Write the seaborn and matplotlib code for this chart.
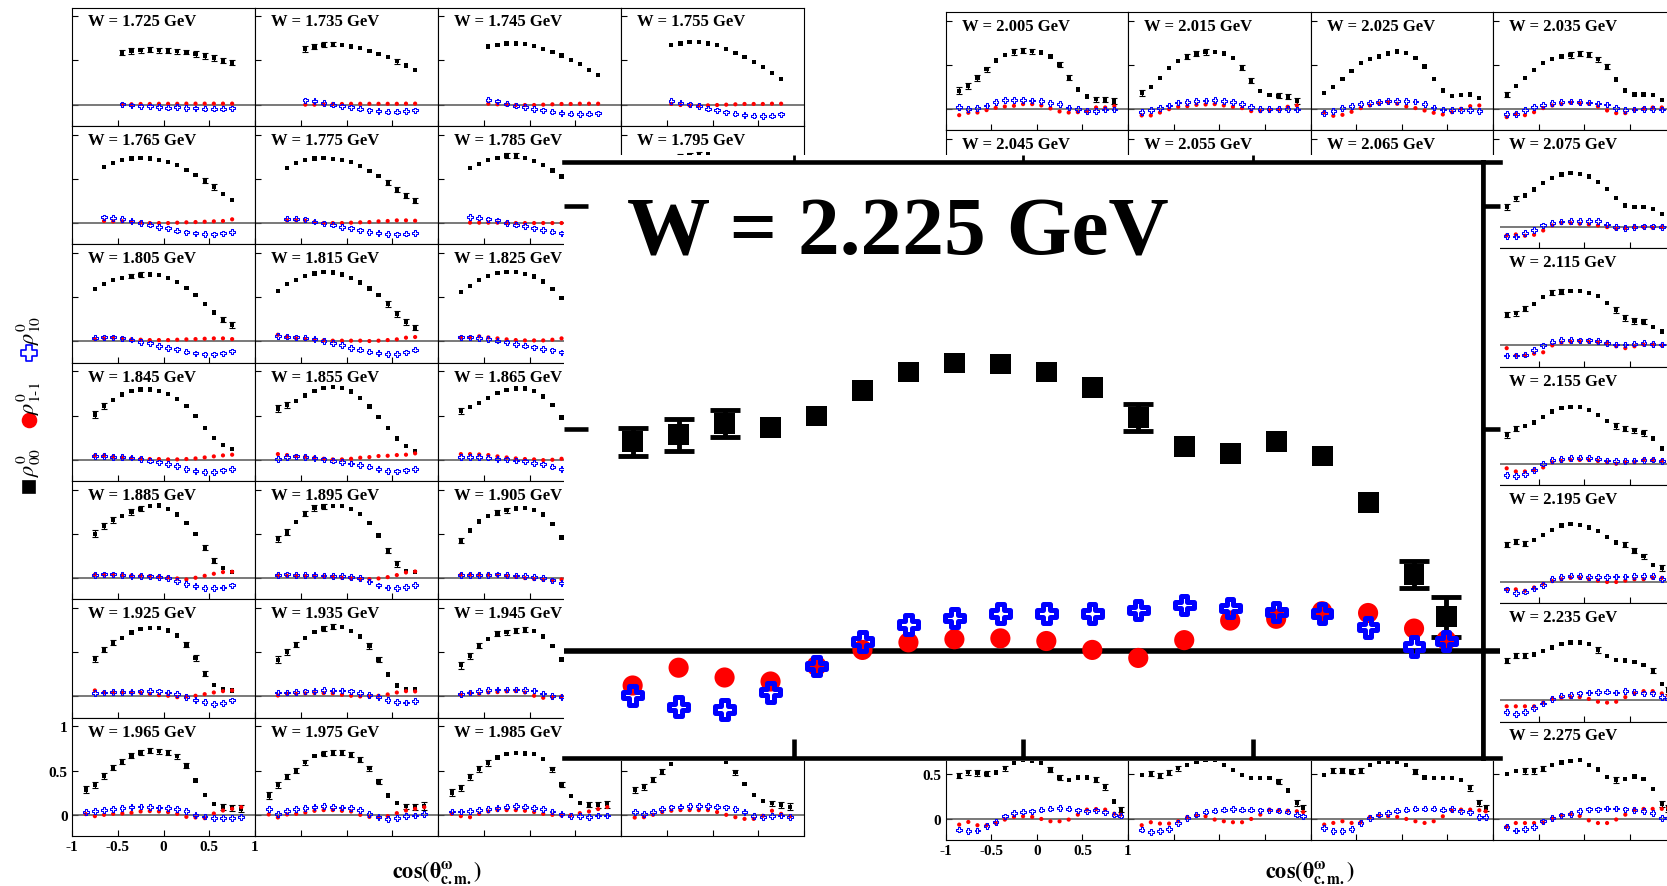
import matplotlib
matplotlib.use("Agg")
import matplotlib.pyplot as plt
from matplotlib.path import Path
from matplotlib.lines import Line2D
from matplotlib.patches import Rectangle
import seaborn as sns

sns.set_style("ticks")
plt.rcParams["font.family"] = ["Liberation Serif", "DejaVu Serif"]
plt.rcParams["mathtext.fontset"] = "stix"
plt.rcParams["text.color"] = "black"
plt.rcParams["xtick.labelcolor"] = "black"
plt.rcParams["ytick.labelcolor"] = "black"

# ---------------------------------------------------------------- data
COS_BINS = [-0.85, -0.75, -0.65, -0.55, -0.45, -0.35, -0.25, -0.15, -0.05,
            0.05, 0.15, 0.25, 0.35, 0.45, 0.55, 0.65, 0.75, 0.85, 0.92]

W_LOW = ["1.725", "1.735", "1.745", "1.755", "1.765", "1.775", "1.785", "1.795",
         "1.805", "1.815", "1.825", "1.835", "1.845", "1.855", "1.865", "1.875",
         "1.885", "1.895", "1.905", "1.915", "1.925", "1.935", "1.945", "1.955",
         "1.965", "1.975", "1.985", "1.995"]
W_HIGH = ["2.005", "2.015", "2.025", "2.035", "2.045", "2.055", "2.065", "2.075",
          "2.085", "2.095", "2.105", "2.115", "2.125", "2.135", "2.145", "2.155",
          "2.165", "2.175", "2.185", "2.195", "2.205", "2.215", "2.225", "2.235",
          "2.245", "2.255", "2.265", "2.275"]
W_ZOOM = "2.225"

XTICKS = [-1, -0.5, 0, 0.5, 1]
XTICK_LABELS = ["-1", "-0.5", "0", "0.5", "1"]
YTICKS = [0, 0.5, 1]
YTICK_LABELS = ["0", "0.5", "1"]

# index of the first cos(theta) bin of each panel
FIRST_BIN = {
    "1.725": 4, "1.735": 4, "1.745": 4, "1.755": 4,
    "1.765": 2, "1.775": 2, "1.785": 2, "1.795": 2,
    "1.805": 1, "1.815": 1, "1.825": 1,
    "1.845": 1, "1.855": 1, "1.865": 1,
    "1.885": 1, "1.895": 1, "1.905": 1,
    "1.925": 1, "1.935": 1, "1.945": 1,
    "1.965": 0, "1.975": 0, "1.985": 0, "1.995": 0,
    "2.005": 0, "2.015": 0, "2.025": 0, "2.035": 0, "2.075": 0,
    "2.115": 0, "2.155": 0, "2.195": 0, "2.225": 0, "2.235": 0,
    "2.245": 0, "2.255": 0, "2.265": 0, "2.275": 0,
}

# rho^0_00
RHO00 = {
    "1.725": [0.589, 0.608, 0.615, 0.623, 0.615, 0.611, 0.604, 0.596, 0.574, 0.551, 0.528, 0.498, 0.475],
    "1.735": [0.630, 0.657, 0.679, 0.687, 0.675, 0.660, 0.642, 0.611, 0.577, 0.536, 0.491, 0.445, 0.396],
    "1.745": [0.660, 0.679, 0.691, 0.691, 0.687, 0.664, 0.634, 0.596, 0.555, 0.506, 0.460, 0.396, 0.336],
    "1.755": [0.675, 0.694, 0.709, 0.706, 0.694, 0.672, 0.630, 0.585, 0.540, 0.483, 0.423, 0.358, 0.294],
    "1.765": [0.638, 0.679, 0.713, 0.732, 0.736, 0.732, 0.713, 0.687, 0.653, 0.604, 0.547, 0.479, 0.408, 0.328, 0.264],
    "1.775": [0.626, 0.679, 0.713, 0.732, 0.736, 0.728, 0.713, 0.687, 0.642, 0.592, 0.532, 0.460, 0.381, 0.313, 0.253],
    "1.785": [0.626, 0.668, 0.713, 0.740, 0.766, 0.762, 0.740, 0.702, 0.657, 0.596, 0.525],
    "1.795": [0.620, 0.660, 0.710, 0.750, 0.770, 0.780, 0.775, 0.750, 0.710, 0.650, 0.580],
    "1.805": [0.592, 0.653, 0.691, 0.717, 0.740, 0.755, 0.758, 0.751, 0.721, 0.675, 0.608, 0.525, 0.426, 0.328, 0.249, 0.185],
    "1.815": [0.570, 0.649, 0.698, 0.740, 0.770, 0.789, 0.781, 0.758, 0.717, 0.668, 0.600, 0.525, 0.423, 0.313, 0.219, 0.158],
    "1.825": [0.558, 0.626, 0.691, 0.743, 0.774, 0.785, 0.785, 0.766, 0.736, 0.679, 0.592, 0.491],
    "1.845": [0.513, 0.608, 0.679, 0.740, 0.781, 0.796, 0.796, 0.781, 0.747, 0.687, 0.608, 0.498, 0.362, 0.245, 0.166, 0.121],
    "1.855": [0.581, 0.619, 0.668, 0.728, 0.777, 0.811, 0.826, 0.815, 0.774, 0.702, 0.604, 0.487, 0.358, 0.242, 0.155, 0.102],
    "1.865": [0.555, 0.596, 0.645, 0.702, 0.755, 0.789, 0.808, 0.808, 0.781, 0.717, 0.619, 0.479],
    "1.885": [0.502, 0.592, 0.657, 0.706, 0.747, 0.785, 0.815, 0.823, 0.781, 0.721, 0.626, 0.498, 0.343, 0.200, 0.113, 0.068],
    "1.895": [0.442, 0.517, 0.634, 0.732, 0.792, 0.811, 0.819, 0.815, 0.781, 0.725, 0.626, 0.483, 0.309, 0.158, 0.083, 0.068],
    "1.905": [0.423, 0.540, 0.642, 0.706, 0.743, 0.770, 0.789, 0.796, 0.774, 0.721, 0.615, 0.460],
    "1.925": [0.426, 0.532, 0.611, 0.664, 0.725, 0.762, 0.777, 0.774, 0.747, 0.691, 0.589, 0.434, 0.257, 0.128, 0.079, 0.068],
    "1.935": [0.415, 0.502, 0.585, 0.660, 0.728, 0.770, 0.789, 0.785, 0.743, 0.679, 0.570, 0.419, 0.249, 0.125, 0.087, 0.087],
    "1.945": [0.355, 0.460, 0.577, 0.653, 0.709, 0.728, 0.743, 0.758, 0.743, 0.679, 0.574, 0.419],
    "1.965": [0.287, 0.343, 0.440, 0.534, 0.602, 0.668, 0.706, 0.725, 0.721, 0.706, 0.664, 0.558, 0.389, 0.226, 0.121, 0.087, 0.079, 0.068],
    "1.975": [0.219, 0.340, 0.430, 0.502, 0.596, 0.664, 0.691, 0.702, 0.702, 0.679, 0.626, 0.528, 0.377, 0.219, 0.132, 0.098, 0.087, 0.100],
    "1.985": [0.252, 0.302, 0.427, 0.519, 0.588, 0.649, 0.687, 0.698, 0.695, 0.687, 0.634, 0.515, 0.344, 0.210, 0.137, 0.115, 0.115, 0.122],
    "1.995": [0.279, 0.317, 0.401, 0.492, 0.576, 0.630, 0.670, 0.690, 0.690, 0.670, 0.595, 0.481, 0.347, 0.221, 0.156, 0.130, 0.115, 0.092],
    "2.005": [0.204, 0.257, 0.347, 0.449, 0.547, 0.608, 0.642, 0.657, 0.653, 0.638, 0.592, 0.502, 0.355, 0.219, 0.140, 0.109, 0.102, 0.083],
    "2.015": [0.177, 0.249, 0.351, 0.464, 0.543, 0.589, 0.623, 0.645, 0.645, 0.626, 0.574, 0.464, 0.317, 0.200, 0.155, 0.147, 0.140, 0.091],
    "2.025": [0.181, 0.245, 0.340, 0.430, 0.517, 0.562, 0.592, 0.626, 0.649, 0.634, 0.577, 0.479, 0.340, 0.208, 0.143, 0.155, 0.162, 0.121],
    "2.035": [0.162, 0.260, 0.347, 0.442, 0.517, 0.562, 0.592, 0.611, 0.623, 0.615, 0.562, 0.479, 0.332, 0.208, 0.162, 0.162, 0.155, 0.098],
    "2.075": [0.226, 0.328, 0.358, 0.426, 0.498, 0.555, 0.596, 0.615, 0.604, 0.574, 0.509, 0.434, 0.328, 0.245, 0.226, 0.226, 0.204, 0.151],
    "2.115": [0.348, 0.364, 0.416, 0.468, 0.545, 0.597, 0.608, 0.613, 0.613, 0.597, 0.556, 0.483, 0.400, 0.312, 0.275, 0.270, 0.208, 0.156],
    "2.155": [0.327, 0.395, 0.431, 0.468, 0.530, 0.592, 0.634, 0.644, 0.639, 0.608, 0.551, 0.483, 0.426, 0.395, 0.379, 0.348, 0.286, 0.171],
    "2.195": [0.421, 0.457, 0.436, 0.473, 0.535, 0.587, 0.639, 0.655, 0.644, 0.618, 0.577, 0.509, 0.447, 0.421, 0.358, 0.291, 0.190, 0.160],
    "2.225": [0.471, 0.487, 0.512, 0.503, 0.529, 0.586, 0.628, 0.648, 0.646, 0.628, 0.593, 0.525, 0.461, 0.444, 0.471, 0.439, 0.335, 0.172, 0.078],
    "2.235": [0.452, 0.504, 0.504, 0.519, 0.561, 0.597, 0.639, 0.655, 0.655, 0.634, 0.571, 0.504, 0.457, 0.452, 0.431, 0.400, 0.338, 0.182, 0.110],
    "2.245": [0.485, 0.526, 0.515, 0.508, 0.523, 0.571, 0.635, 0.665, 0.654, 0.628, 0.553, 0.466, 0.440, 0.466, 0.466, 0.440, 0.357, 0.195, 0.102],
    "2.255": [0.496, 0.508, 0.485, 0.523, 0.571, 0.609, 0.647, 0.665, 0.665, 0.609, 0.553, 0.496, 0.459, 0.459, 0.459, 0.421, 0.320, 0.177, 0.120],
    "2.265": [0.496, 0.541, 0.541, 0.534, 0.545, 0.609, 0.647, 0.647, 0.647, 0.609, 0.534, 0.466, 0.459, 0.459, 0.459, 0.440, 0.346, 0.177, 0.120],
    "2.275": [0.504, 0.540, 0.540, 0.540, 0.566, 0.608, 0.634, 0.649, 0.660, 0.608, 0.556, 0.468, 0.436, 0.452, 0.478, 0.452, 0.332, 0.166, 0.114],
}

# uncertainties of rho^0_00
ERR00 = {
    "1.725": [0.032, 0.030, 0.030, 0.030, 0.028, 0.028, 0.028, 0.028, 0.030, 0.030, 0.030, 0.030, 0.030],
    "1.735": [0.030, 0.028, 0.028, 0.028, 0.012, 0.012, 0.012, 0.012, 0.012, 0.012, 0.028, 0.012, 0.012],
    "1.745": [0.012, 0.012, 0.012, 0.012, 0.012, 0.012, 0.012, 0.012, 0.012, 0.012, 0.012, 0.012, 0.012],
    "1.755": [0.012, 0.012, 0.012, 0.012, 0.012, 0.012, 0.012, 0.012, 0.012, 0.012, 0.012, 0.012, 0.012],
    "1.765": [0.012, 0.012, 0.012, 0.012, 0.012, 0.012, 0.012, 0.012, 0.012, 0.012, 0.012, 0.030, 0.030, 0.012, 0.012],
    "1.775": [0.012, 0.012, 0.012, 0.012, 0.012, 0.012, 0.012, 0.012, 0.012, 0.012, 0.012, 0.030, 0.032, 0.032, 0.030],
    "1.785": [0.012, 0.012, 0.012, 0.012, 0.028, 0.028, 0.012, 0.012, 0.012, 0.012, 0.012],
    "1.795": [0.012, 0.012, 0.012, 0.028, 0.028, 0.028, 0.012, 0.012, 0.012, 0.012, 0.012],
    "1.805": [0.012, 0.012, 0.012, 0.012, 0.028, 0.028, 0.012, 0.012, 0.012, 0.012, 0.012, 0.012, 0.012, 0.012, 0.030, 0.030],
    "1.815": [0.012, 0.012, 0.012, 0.012, 0.012, 0.012, 0.012, 0.012, 0.012, 0.012, 0.012, 0.012, 0.030, 0.032, 0.030, 0.030],
    "1.825": [0.012, 0.012, 0.012, 0.012, 0.012, 0.012, 0.012, 0.012, 0.012, 0.012, 0.012, 0.012],
    "1.845": [0.040, 0.032, 0.012, 0.012, 0.012, 0.012, 0.012, 0.012, 0.012, 0.012, 0.012, 0.012, 0.012, 0.012, 0.012, 0.012],
    "1.855": [0.040, 0.032, 0.012, 0.012, 0.012, 0.012, 0.012, 0.012, 0.012, 0.012, 0.012, 0.012, 0.012, 0.012, 0.012, 0.012],
    "1.865": [0.036, 0.012, 0.012, 0.012, 0.012, 0.012, 0.012, 0.012, 0.012, 0.012, 0.012, 0.012],
    "1.885": [0.040, 0.032, 0.030, 0.012, 0.030, 0.030, 0.012, 0.012, 0.012, 0.012, 0.012, 0.012, 0.030, 0.032, 0.012, 0.012],
    "1.895": [0.038, 0.034, 0.012, 0.030, 0.030, 0.030, 0.012, 0.012, 0.012, 0.012, 0.012, 0.012, 0.030, 0.030, 0.012, 0.012],
    "1.905": [0.030, 0.012, 0.012, 0.012, 0.028, 0.028, 0.012, 0.012, 0.012, 0.012, 0.012, 0.012],
    "1.925": [0.036, 0.030, 0.030, 0.012, 0.012, 0.012, 0.012, 0.012, 0.012, 0.012, 0.030, 0.032, 0.030, 0.012, 0.012, 0.012],
    "1.935": [0.038, 0.032, 0.030, 0.012, 0.012, 0.030, 0.030, 0.012, 0.012, 0.012, 0.030, 0.030, 0.012, 0.012, 0.012, 0.012],
    "1.945": [0.040, 0.036, 0.030, 0.012, 0.028, 0.028, 0.028, 0.028, 0.012, 0.012, 0.012, 0.012],
    "1.965": [0.040, 0.034, 0.030, 0.030, 0.030, 0.030, 0.030, 0.028, 0.028, 0.028, 0.030, 0.030, 0.012, 0.012, 0.012, 0.030, 0.034, 0.040],
    "1.975": [0.040, 0.032, 0.030, 0.030, 0.030, 0.012, 0.030, 0.030, 0.030, 0.030, 0.030, 0.030, 0.030, 0.012, 0.012, 0.030, 0.034, 0.040],
    "1.985": [0.036, 0.034, 0.030, 0.030, 0.030, 0.012, 0.012, 0.012, 0.012, 0.012, 0.012, 0.030, 0.030, 0.012, 0.012, 0.030, 0.034, 0.040],
    "1.995": [0.036, 0.034, 0.030, 0.030, 0.012, 0.012, 0.012, 0.012, 0.012, 0.012, 0.012, 0.030, 0.012, 0.012, 0.012, 0.030, 0.034, 0.040],
    "2.005": [0.040, 0.032, 0.032, 0.030, 0.012, 0.012, 0.030, 0.030, 0.030, 0.012, 0.012, 0.030, 0.030, 0.012, 0.012, 0.030, 0.030, 0.034],
    "2.015": [0.032, 0.012, 0.012, 0.012, 0.012, 0.030, 0.030, 0.030, 0.012, 0.012, 0.012, 0.030, 0.030, 0.012, 0.012, 0.030, 0.030, 0.036],
    "2.025": [0.012, 0.012, 0.012, 0.012, 0.012, 0.012, 0.012, 0.012, 0.012, 0.012, 0.012, 0.012, 0.012, 0.012, 0.012, 0.012, 0.012, 0.012],
    "2.035": [0.032, 0.012, 0.012, 0.012, 0.012, 0.012, 0.012, 0.030, 0.030, 0.030, 0.030, 0.030, 0.012, 0.012, 0.012, 0.012, 0.012, 0.012],
    "2.075": [0.034, 0.030, 0.012, 0.012, 0.012, 0.012, 0.012, 0.012, 0.012, 0.012, 0.012, 0.012, 0.012, 0.012, 0.012, 0.012, 0.012, 0.012],
    "2.115": [0.030, 0.030, 0.030, 0.012, 0.012, 0.030, 0.030, 0.012, 0.012, 0.012, 0.012, 0.012, 0.030, 0.030, 0.030, 0.030, 0.012, 0.012],
    "2.155": [0.034, 0.030, 0.012, 0.012, 0.012, 0.012, 0.012, 0.012, 0.012, 0.012, 0.012, 0.012, 0.030, 0.030, 0.030, 0.030, 0.012, 0.012],
    "2.195": [0.030, 0.030, 0.030, 0.012, 0.012, 0.012, 0.012, 0.012, 0.012, 0.012, 0.012, 0.012, 0.012, 0.030, 0.030, 0.030, 0.012, 0.030],
    "2.225": [0.032, 0.036, 0.030, 0.012, 0.012, 0.012, 0.012, 0.012, 0.012, 0.012, 0.012, 0.030, 0.012, 0.012, 0.012, 0.012, 0.012, 0.030, 0.045],
    "2.235": [0.032, 0.030, 0.030, 0.012, 0.012, 0.012, 0.012, 0.012, 0.012, 0.012, 0.030, 0.012, 0.012, 0.012, 0.012, 0.012, 0.030, 0.012, 0.036],
    "2.245": [0.030, 0.030, 0.030, 0.030, 0.012, 0.030, 0.012, 0.012, 0.012, 0.012, 0.030, 0.030, 0.012, 0.012, 0.012, 0.030, 0.030, 0.012, 0.030],
    "2.255": [0.012, 0.030, 0.030, 0.030, 0.030, 0.012, 0.012, 0.012, 0.012, 0.012, 0.012, 0.012, 0.012, 0.012, 0.012, 0.030, 0.012, 0.030, 0.036],
    "2.265": [0.012, 0.030, 0.030, 0.030, 0.030, 0.012, 0.012, 0.012, 0.012, 0.012, 0.030, 0.012, 0.012, 0.012, 0.012, 0.012, 0.030, 0.030, 0.036],
    "2.275": [0.012, 0.012, 0.030, 0.030, 0.030, 0.012, 0.012, 0.012, 0.012, 0.012, 0.012, 0.012, 0.030, 0.012, 0.012, 0.012, 0.012, 0.030, 0.036],
}

# rho^0_1-1
RHO1M1 = {
    "1.725": [0.005, 0.005, 0.008, 0.008, 0.010, 0.010, 0.010, 0.012, 0.012, 0.012, 0.012, 0.012, 0.012],
    "1.735": [0.000, 0.000, 0.005, 0.008, 0.008, 0.010, 0.010, 0.010, 0.010, 0.010, 0.010, 0.012, 0.012],
    "1.745": [0.011, 0.004, 0.000, -0.004, -0.004, -0.004, 0.000, 0.004, 0.008, 0.008, 0.011, 0.011, 0.011],
    "1.755": [0.008, -0.004, -0.008, -0.011, -0.008, -0.004, 0.000, 0.004, 0.008, 0.008, 0.008, 0.011, 0.011],
    "1.765": [0.023, 0.019, 0.019, 0.011, 0.004, 0.000, 0.000, 0.000, 0.004, 0.008, 0.011, 0.015, 0.019, 0.023, 0.042],
    "1.775": [0.030, 0.030, 0.026, 0.011, 0.000, 0.000, 0.000, 0.004, 0.008, 0.011, 0.019, 0.023, 0.030, 0.030, 0.026],
    "1.785": [0.004, 0.004, 0.004, 0.004, 0.000, 0.000, 0.000, 0.000, 0.000, 0.000, 0.000],
    "1.795": [0.010, 0.010, 0.008, 0.005, 0.003, 0.000, 0.000, 0.000, 0.000, 0.000, 0.000],
    "1.805": [0.026, 0.034, 0.042, 0.034, 0.023, 0.019, 0.015, 0.015, 0.015, 0.019, 0.023, 0.026, 0.030, 0.034, 0.034, 0.026],
    "1.815": [0.075, 0.053, 0.034, 0.026, 0.019, 0.011, 0.008, 0.008, 0.008, 0.008, 0.004, 0.008, 0.015, 0.023, 0.042, 0.049],
    "1.825": [0.042, 0.045, 0.057, 0.045, 0.034, 0.023, 0.015, 0.011, 0.011, 0.011, 0.019, 0.034],
    "1.845": [0.045, 0.045, 0.034, 0.026, 0.019, 0.011, 0.008, 0.008, 0.004, 0.004, 0.008, 0.015, 0.026, 0.038, 0.049, 0.057],
    "1.855": [0.064, 0.053, 0.042, 0.034, 0.023, 0.011, 0.004, 0.004, 0.011, 0.023, 0.030, 0.042, 0.045, 0.053, 0.057, 0.072],
    "1.865": [0.064, 0.064, 0.060, 0.053, 0.038, 0.026, 0.015, 0.008, 0.004, -0.004, 0.000, 0.011],
    "1.885": [0.038, 0.038, 0.038, 0.034, 0.030, 0.026, 0.023, 0.015, 0.008, -0.004, -0.015, 0.004, 0.026, 0.049, 0.068, 0.072],
    "1.895": [0.030, 0.026, 0.026, 0.023, 0.023, 0.019, 0.015, 0.004, -0.004, -0.011, -0.011, -0.004, 0.011, 0.034, 0.064, 0.075],
    "1.905": [0.038, 0.038, 0.038, 0.038, 0.034, 0.026, 0.015, 0.000, -0.011, -0.019, -0.026, -0.015],
    "1.925": [0.068, 0.045, 0.045, 0.045, 0.045, 0.042, 0.030, 0.015, 0.008, -0.008, 0.000, 0.008, 0.026, 0.045, 0.060, 0.068],
    "1.935": [0.011, 0.030, 0.030, 0.034, 0.038, 0.038, 0.034, 0.019, 0.008, 0.000, 0.000, 0.008, 0.023, 0.045, 0.060, 0.057],
    "1.945": [0.019, 0.038, 0.030, 0.045, 0.049, 0.057, 0.060, 0.045, 0.008, -0.015, -0.008, 0.000],
    "1.965": [0.008, -0.015, 0.000, 0.011, 0.015, 0.023, 0.038, 0.042, 0.038, 0.030, 0.011, -0.023, -0.030, -0.038, 0.015, 0.049, 0.068, 0.087],
    "1.975": [0.004, -0.030, 0.004, 0.011, 0.026, 0.045, 0.053, 0.053, 0.045, 0.038, 0.000, -0.023, -0.026, -0.015, 0.019, 0.049, 0.068, 0.087],
    "1.985": [0.011, -0.015, -0.027, 0.011, 0.038, 0.053, 0.053, 0.053, 0.046, 0.031, 0.011, 0.000, -0.008, -0.004, 0.019, 0.038, 0.065, 0.088],
    "1.995": [-0.031, -0.027, 0.000, 0.031, 0.046, 0.053, 0.053, 0.053, 0.053, 0.031, 0.000, -0.027, -0.046, -0.046, -0.011, 0.046, 0.011, -0.015],
    "2.005": [-0.072, -0.045, -0.042, -0.015, 0.011, 0.026, 0.034, 0.053, 0.053, 0.038, 0.004, -0.030, -0.042, -0.038, -0.030, 0.015, 0.015, 0.030],
    "2.015": [-0.075, -0.075, -0.042, -0.004, 0.023, 0.030, 0.045, 0.049, 0.053, 0.038, 0.023, 0.008, -0.026, -0.026, -0.015, -0.008, 0.023, 0.038],
    "2.025": [-0.042, -0.079, -0.068, -0.034, 0.008, 0.038, 0.060, 0.075, 0.057, 0.026, 0.008, -0.019, -0.045, -0.064, -0.038, 0.000, 0.030, 0.038],
    "2.035": [-0.094, -0.060, -0.072, -0.038, 0.008, 0.038, 0.053, 0.068, 0.064, 0.057, 0.026, -0.019, -0.049, -0.049, -0.011, 0.000, 0.015, 0.015],
    "2.075": [-0.094, -0.083, -0.098, -0.087, -0.038, 0.019, 0.045, 0.045, 0.038, 0.030, 0.019, 0.000, -0.019, -0.011, 0.000, 0.000, -0.008, 0.000],
    "2.115": [-0.031, -0.114, -0.114, -0.094, -0.078, 0.000, 0.031, 0.042, 0.047, 0.042, 0.036, 0.026, -0.010, -0.031, -0.010, 0.010, 0.010, 0.000],
    "2.155": [-0.052, -0.088, -0.088, -0.073, -0.042, 0.016, 0.031, 0.042, 0.042, 0.042, 0.031, 0.016, 0.000, 0.016, 0.016, 0.042, 0.042, 0.031],
    "2.195": [-0.083, -0.083, -0.099, -0.062, -0.021, 0.010, 0.031, 0.047, 0.047, 0.031, 0.016, 0.000, 0.000, 0.016, 0.031, 0.031, 0.047, 0.047],
    "2.225": [-0.077, -0.037, -0.059, -0.068, -0.033, 0.003, 0.020, 0.027, 0.029, 0.023, 0.003, -0.015, 0.025, 0.069, 0.073, 0.090, 0.086, 0.051, 0.025],
    "2.235": [-0.068, -0.068, -0.068, -0.068, -0.026, 0.016, 0.026, 0.036, 0.036, 0.016, -0.016, -0.026, -0.016, 0.036, 0.078, 0.104, 0.104, 0.078, 0.052],
    "2.245": [-0.068, -0.038, -0.075, -0.075, -0.049, -0.011, 0.019, 0.026, 0.019, -0.004, -0.030, -0.030, -0.011, 0.045, 0.102, 0.109, 0.102, 0.056, 0.045],
    "2.255": [-0.075, -0.041, -0.056, -0.056, -0.030, 0.019, 0.034, 0.026, -0.011, -0.030, -0.041, -0.041, -0.004, 0.045, 0.102, 0.094, 0.090, 0.083, 0.075],
    "2.265": [-0.068, -0.049, -0.030, -0.049, -0.041, 0.019, 0.034, 0.026, 0.019, -0.004, -0.030, -0.049, -0.030, 0.026, 0.090, 0.102, 0.102, 0.094, 0.083],
    "2.275": [-0.090, -0.050, -0.050, -0.050, -0.045, 0.000, 0.035, 0.050, 0.030, -0.020, -0.050, -0.050, -0.010, 0.045, 0.100, 0.110, 0.110, 0.110, 0.120],
}

# rho^0_10
RHO10 = {
    "1.725": [0.004, -0.008, -0.019, -0.019, -0.026, -0.034, -0.026, -0.038, -0.042, -0.045, -0.045, -0.045, -0.042],
    "1.735": [0.049, 0.042, 0.019, 0.000, -0.019, -0.030, -0.045, -0.064, -0.072, -0.079, -0.079, -0.072, -0.064],
    "1.745": [0.057, 0.038, 0.011, -0.011, -0.026, -0.049, -0.064, -0.079, -0.094, -0.102, -0.106, -0.102, -0.098],
    "1.755": [0.042, 0.023, 0.004, -0.015, -0.045, -0.064, -0.087, -0.102, -0.117, -0.125, -0.128, -0.125, -0.109],
    "1.765": [0.064, 0.057, 0.045, 0.023, 0.000, -0.019, -0.042, -0.060, -0.087, -0.106, -0.117, -0.125, -0.128, -0.117, -0.102],
    "1.775": [0.049, 0.049, 0.042, 0.015, -0.004, -0.019, -0.042, -0.060, -0.083, -0.102, -0.113, -0.125, -0.128, -0.121, -0.113],
    "1.785": [0.068, 0.060, 0.042, 0.030, 0.000, -0.019, -0.034, -0.060, -0.079, -0.098, -0.117],
    "1.795": [0.060, 0.050, 0.040, 0.020, 0.000, -0.020, -0.040, -0.060, -0.080, -0.100, -0.110],
    "1.805": [0.042, 0.045, 0.045, 0.034, 0.019, -0.004, -0.023, -0.053, -0.072, -0.091, -0.117, -0.136, -0.147, -0.147, -0.136, -0.113],
    "1.815": [0.060, 0.053, 0.045, 0.042, 0.026, 0.004, -0.019, -0.042, -0.072, -0.094, -0.117, -0.132, -0.143, -0.143, -0.125, -0.094],
    "1.825": [0.045, 0.045, 0.038, 0.026, 0.008, -0.011, -0.030, -0.049, -0.068, -0.087, -0.102, -0.125],
    "1.845": [0.045, 0.042, 0.034, 0.030, 0.023, 0.008, -0.011, -0.030, -0.049, -0.072, -0.102, -0.125, -0.140, -0.140, -0.121, -0.102],
    "1.855": [0.008, 0.034, 0.038, 0.030, 0.019, 0.004, -0.011, -0.023, -0.042, -0.057, -0.079, -0.106, -0.125, -0.132, -0.121, -0.102],
    "1.865": [0.034, 0.034, 0.030, 0.023, 0.008, 0.004, -0.008, -0.019, -0.038, -0.053, -0.079, -0.106],
    "1.885": [0.038, 0.042, 0.042, 0.034, 0.026, 0.023, 0.019, 0.011, 0.000, -0.030, -0.064, -0.091, -0.113, -0.113, -0.106, -0.083],
    "1.895": [0.038, 0.042, 0.038, 0.038, 0.038, 0.030, 0.026, 0.023, 0.011, 0.000, -0.038, -0.083, -0.106, -0.113, -0.102, -0.075],
    "1.905": [0.038, 0.038, 0.038, 0.038, 0.042, 0.034, 0.030, 0.023, 0.015, 0.004, -0.026, -0.053],
    "1.925": [0.038, 0.045, 0.049, 0.053, 0.053, 0.057, 0.060, 0.057, 0.045, 0.030, -0.004, -0.038, -0.060, -0.087, -0.075, -0.045],
    "1.935": [0.045, 0.045, 0.049, 0.057, 0.064, 0.075, 0.068, 0.068, 0.057, 0.038, 0.019, -0.008, -0.038, -0.064, -0.068, -0.053],
    "1.945": [0.030, 0.045, 0.064, 0.075, 0.079, 0.079, 0.079, 0.075, 0.068, 0.034, 0.004, -0.008],
    "1.965": [0.030, 0.042, 0.053, 0.068, 0.079, 0.087, 0.094, 0.091, 0.083, 0.075, 0.068, 0.042, 0.000, -0.019, -0.038, -0.038, -0.034, -0.026],
    "1.975": [0.064, 0.011, 0.042, 0.068, 0.075, 0.087, 0.098, 0.091, 0.083, 0.075, 0.057, 0.011, -0.026, -0.045, -0.034, -0.015, -0.008, 0.011],
    "1.985": [0.038, 0.038, 0.046, 0.057, 0.069, 0.076, 0.092, 0.099, 0.092, 0.080, 0.069, 0.038, 0.011, -0.011, -0.015, -0.023, -0.008, -0.008],
    "1.995": [0.031, 0.011, 0.031, 0.069, 0.084, 0.092, 0.099, 0.099, 0.099, 0.092, 0.084, 0.069, 0.031, -0.015, -0.027, -0.015, -0.008, -0.027],
    "2.005": [0.019, -0.004, 0.008, 0.038, 0.079, 0.098, 0.098, 0.098, 0.094, 0.087, 0.064, 0.057, 0.015, 0.000, -0.023, -0.023, -0.008, -0.008],
    "2.015": [-0.038, -0.015, 0.011, 0.038, 0.072, 0.079, 0.091, 0.094, 0.102, 0.091, 0.079, 0.057, 0.023, -0.004, -0.004, -0.004, -0.004, -0.008],
    "2.025": [-0.045, -0.023, 0.011, 0.034, 0.053, 0.068, 0.079, 0.087, 0.091, 0.091, 0.083, 0.053, 0.015, -0.008, -0.011, -0.011, -0.011, -0.023],
    "2.035": [-0.060, -0.057, -0.011, 0.023, 0.042, 0.064, 0.075, 0.083, 0.075, 0.072, 0.060, 0.049, 0.011, -0.011, -0.008, 0.000, 0.000, -0.008],
    "2.075": [-0.098, -0.106, -0.068, -0.030, 0.019, 0.049, 0.064, 0.068, 0.072, 0.072, 0.068, 0.030, 0.000, -0.008, 0.000, 0.008, 0.008, 0.000],
    "2.115": [-0.114, -0.114, -0.104, -0.052, 0.000, 0.042, 0.062, 0.062, 0.057, 0.057, 0.052, 0.026, 0.010, 0.010, 0.021, 0.026, 0.016, 0.010],
    "2.155": [-0.125, -0.140, -0.114, -0.073, 0.000, 0.042, 0.052, 0.062, 0.068, 0.062, 0.057, 0.036, 0.031, 0.031, 0.036, 0.042, 0.047, 0.031],
    "2.195": [-0.083, -0.125, -0.109, -0.073, -0.031, 0.031, 0.057, 0.073, 0.068, 0.057, 0.057, 0.057, 0.062, 0.062, 0.068, 0.068, 0.068, 0.031],
    "2.225": [-0.099, -0.125, -0.131, -0.092, -0.033, 0.022, 0.060, 0.075, 0.085, 0.085, 0.085, 0.093, 0.104, 0.097, 0.088, 0.085, 0.054, 0.011, 0.023],
    "2.235": [-0.130, -0.156, -0.130, -0.088, -0.036, 0.016, 0.052, 0.062, 0.078, 0.088, 0.094, 0.099, 0.088, 0.104, 0.094, 0.078, 0.078, 0.036, 0.016],
    "2.245": [-0.124, -0.143, -0.135, -0.086, -0.038, 0.026, 0.064, 0.079, 0.083, 0.102, 0.113, 0.120, 0.113, 0.094, 0.083, 0.094, 0.071, 0.045, 0.034],
    "2.255": [-0.124, -0.150, -0.143, -0.117, -0.049, 0.008, 0.045, 0.079, 0.090, 0.102, 0.109, 0.102, 0.102, 0.094, 0.094, 0.090, 0.079, 0.045, 0.026],
    "2.265": [-0.105, -0.143, -0.143, -0.117, -0.049, 0.008, 0.045, 0.064, 0.090, 0.102, 0.113, 0.113, 0.113, 0.102, 0.109, 0.083, 0.071, 0.019, 0.019],
    "2.275": [-0.094, -0.135, -0.119, -0.094, -0.031, 0.010, 0.036, 0.052, 0.088, 0.104, 0.104, 0.114, 0.114, 0.104, 0.099, 0.088, 0.062, 0.010, 0.010],
}

# ---------------------------------------------------------------- layout
FIG_W, FIG_H, DPI = 1667, 887, 100
fig = plt.figure(figsize=(FIG_W / DPI, FIG_H / DPI), dpi=DPI)
fig.patch.set_facecolor("white")

# pixel box of the magnified panel (left, top, right, bottom)
ZOOM_BOX = (564, 156, 1500, 762)


def px_rect(left, top, width, height):
    return [left / FIG_W, 1 - (top + height) / FIG_H, width / FIG_W, height / FIG_H]


# open cross marker outline
_a = 0.34
OPEN_CROSS = Path(
    [(-_a, 1), (_a, 1), (_a, _a), (1, _a), (1, -_a), (_a, -_a), (_a, -1),
     (-_a, -1), (-_a, -_a), (-1, -_a), (-1, _a), (-_a, _a), (-_a, 1)],
    [Path.MOVETO] + [Path.LINETO] * 11 + [Path.CLOSEPOLY])

SMALL = dict(sq=3.1, circ=3.0, cross=4.0, cross_lw=0.75, cap=2.1, elw=0.8,
             err_min=0.025)
BIG = dict(sq=15.0, circ=14.5, cross=13.5, cross_lw=3.6, cap=10.5, elw=3.5,
           err_min=0.025)
SERIF = "Liberation Serif"


def draw_data(ax, w, st):
    if w not in RHO00:
        return
    start = FIRST_BIN[w]
    b, e, r, u = RHO00[w], ERR00[w], RHO1M1[w], RHO10[w]
    n = min(len(b), len(e), len(r), len(u))
    xs = COS_BINS[start:start + n]
    # error bars are only visible where they reach beyond the marker
    keep = [i for i in range(n) if e[i] > st["err_min"]]
    if keep:
        ax.errorbar([xs[i] for i in keep], [b[i] for i in keep],
                    yerr=[e[i] for i in keep], fmt="none", ecolor="black",
                    elinewidth=st["elw"], capsize=st["cap"], capthick=st["elw"],
                    zorder=2)
    sns.scatterplot(x=xs, y=b[:n], marker="s", s=st["sq"] ** 2, color="black",
                    edgecolor="none", linewidth=0, ax=ax, zorder=3, legend=False)
    sns.scatterplot(x=xs, y=r[:n], marker="o", s=st["circ"] ** 2, color="#ff0000",
                    edgecolor="none", linewidth=0, ax=ax, zorder=4, legend=False)
    sns.scatterplot(x=xs, y=u[:n], marker=OPEN_CROSS, s=st["cross"] ** 2,
                    facecolor="none", edgecolor="#0000ff",
                    linewidth=st["cross_lw"], ax=ax, zorder=5, legend=False)


def small_panel(left, top, pw, ph, w, with_labels):
    ax = fig.add_axes(px_rect(left, top, pw, ph))
    ax.set_facecolor("white")
    ax.axhline(0, color="#555555", lw=1.1, zorder=1)
    draw_data(ax, w, SMALL)
    ax.set_xlim(-1, 1)
    ax.set_ylim(-0.24, 1.1)
    ax.set_xticks(XTICKS)
    ax.set_yticks(YTICKS)
    ax.tick_params(direction="in", length=4, width=0.8, color="black",
                   top=False, right=False, labelsize=11, pad=3,
                   labelbottom=with_labels, labelleft=with_labels)
    if with_labels:
        ax.set_xticklabels(XTICK_LABELS, fontweight="bold", family=SERIF)
        ax.set_yticklabels(YTICK_LABELS, fontweight="bold", family=SERIF)
    ax.set_xlabel("")
    ax.set_ylabel("")
    for s in ax.spines.values():
        s.set_visible(True)
        s.set_color("black")
        s.set_linewidth(0.8)
    # the title is left out where the magnified panel lies on top of it
    tx, ty = left + 16, top + 18
    covered = (ZOOM_BOX[0] - 4 <= tx <= ZOOM_BOX[2]) and (ZOOM_BOX[1] <= ty <= ZOOM_BOX[3])
    if not covered:
        ax.text(0.088, 0.848, f"W = {w} GeV", transform=ax.transAxes,
                fontsize=12, fontweight="bold", family=SERIF, color="black",
                va="baseline", ha="left", zorder=6)
    return ax


def grid(labels, x0, y0, pw, ph):
    for i, w in enumerate(labels):
        r, c = divmod(i, 4)
        small_panel(x0 + c * pw, y0 + r * ph, pw, ph, w,
                    with_labels=(r == 6 and c == 0))


grid(W_LOW, 72.0, 8.5, 183.0, 118.36)
grid(W_HIGH, 945.5, 12.7, 182.5, 118.3)

# ---------------------------------------------------------------- magnified panel
fig.add_artist(Rectangle((ZOOM_BOX[0] / FIG_W, 1 - ZOOM_BOX[3] / FIG_H),
                         (ZOOM_BOX[2] - ZOOM_BOX[0]) / FIG_W,
                         (ZOOM_BOX[3] - ZOOM_BOX[1]) / FIG_H,
                         transform=fig.transFigure, facecolor="white",
                         edgecolor="none", zorder=5))

THICK = 3.3
ins = fig.add_axes(px_rect(563.7, 163, 1483 - 563.7, 596), zorder=10)
ins.set_facecolor("white")
ins.axhline(0, color="black", lw=4.0, zorder=1)
draw_data(ins, W_ZOOM, BIG)
ins.set_xlim(-1, 1)
ins.set_ylim(-0.24, 1.1)
ins.set_xlabel("")
ins.set_ylabel("")
ins.set_xticks([-0.5, 0, 0.5])
ins.set_yticks([0.5, 1.0])
ins.tick_params(axis="x", direction="in", length=14, width=THICK, color="black",
                labelbottom=False, top=False)
ins.tick_params(axis="y", direction="in", length=17, width=THICK, color="black",
                labelleft=False, right=False)
for side in ("top", "bottom", "right"):
    ins.spines[side].set_linewidth(THICK)
    ins.spines[side].set_color("black")
ins.spines["left"].set_visible(False)
top_ticks = ins.secondary_xaxis("top")
top_ticks.set_xticks([-0.5, 0, 0.5])
top_ticks.tick_params(direction="out", length=5, width=2, color="black",
                      labeltop=False)
top_ticks.spines["top"].set_visible(False)
ins.text(0.069, 0.846, f"W = {W_ZOOM} GeV", transform=ins.transAxes,
         fontsize=60, fontweight="bold", family=SERIF, color="black",
         va="baseline", ha="left")

# sliver of the neighbouring panel to the right
strip = fig.add_axes(px_rect(1483, 163, 16.5, 596), zorder=10)
strip.set_facecolor("white")
strip.set_xlim(0, 1)
strip.set_ylim(-0.24, 1.1)
strip.axhline(0, color="black", lw=4.0)
strip.set_xticks([])
strip.set_yticks([0.5, 1.0])
strip.tick_params(axis="y", direction="in", length=12, width=THICK,
                  color="black", labelleft=False, right=False)
for side in ("top", "bottom", "left"):
    strip.spines[side].set_linewidth(THICK)
    strip.spines[side].set_color("black")
strip.spines["right"].set_visible(False)

# ---------------------------------------------------------------- axis titles
XLABEL = r"$\mathbf{cos(\theta^{\omega}_{c.m.})}$"
for xc in (437, 1310):
    fig.text(xc / FIG_W, 1 - 878 / FIG_H, XLABEL, ha="center", va="baseline",
             fontsize=16, color="black")

# vertical legend on the left margin
LEGEND = [("s", "black", "black", 9, r"$\rho^{0}_{00}$", 488, 462),
          ("o", "#ff0000", "#ff0000", 10, r"$\rho^{0}_{1\text{-}1}$", 421, 398),
          (OPEN_CROSS, "none", "#0000ff", 12, r"$\rho^{0}_{10}$", 354, 330)]
for mk, fc, ec, ms, txt, ym, yt in LEGEND:
    fig.add_artist(Line2D([29 / FIG_W], [1 - ym / FIG_H], transform=fig.transFigure,
                          marker=mk, markersize=ms, markerfacecolor=fc,
                          markeredgecolor=ec, markeredgewidth=1.2, ls="none"))
    fig.text(29 / FIG_W, 1 - yt / FIG_H, txt, rotation=90, ha="center",
             va="center", fontsize=16, color="black")

fig.savefig("out.png", dpi=DPI, facecolor="white")
